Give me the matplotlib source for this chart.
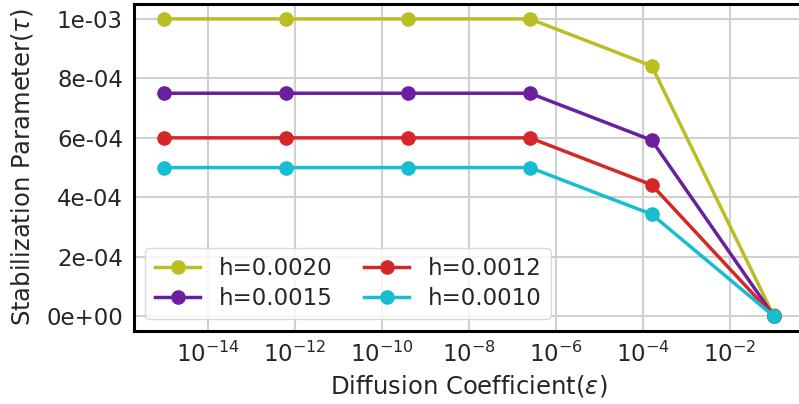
import numpy as np
import matplotlib
matplotlib.use("Agg")
import matplotlib.pyplot as plt
from matplotlib.ticker import FuncFormatter

eps = [1e-15, 10**-12.2, 10**-9.4, 10**-6.6, 10**-3.8, 1e-1]
tau_h0020 = [1.0e-3, 1.0e-3, 1.0e-3, 1.0e-3, 8.42e-4, 3.3e-6]
tau_h0015 = [7.5e-4, 7.5e-4, 7.5e-4, 7.5e-4, 5.92e-4, 1.9e-6]
tau_h0012 = [6.0e-4, 6.0e-4, 6.0e-4, 6.0e-4, 4.42e-4, 1.2e-6]
tau_h0010 = [5.0e-4, 5.0e-4, 5.0e-4, 5.0e-4, 3.43e-4, 0.8e-6]
labels = ["h=0.0020", "h=0.0015", "h=0.0012", "h=0.0010"]
colors = ["#bcbd22", "#6a1fa0", "#d62728", "#17becf"]

plt.rcParams['font.family'] = ['DejaVu Sans']
fig = plt.figure(figsize=(7.99, 4.04), dpi=100)
ax = fig.add_axes([0.1677, 0.181, 0.8385, 0.809])

for y, lab, c in zip([tau_h0020, tau_h0015, tau_h0012, tau_h0010], labels, colors):
    ax.plot(eps, y, '-o', color=c, lw=2.5, ms=9.5, label=lab)

ax.set_xscale('log')
ax.set_xticks([1e-14, 1e-12, 1e-10, 1e-8, 1e-6, 1e-4, 1e-2])
ax.xaxis.set_minor_locator(matplotlib.ticker.NullLocator())
ax.set_yticks([0, 2e-4, 4e-4, 6e-4, 8e-4, 1e-3])
ax.yaxis.set_major_formatter(FuncFormatter(lambda v, p: "{:.0e}".format(v)))
ax.grid(True, color='#d0d0d0', lw=1.5)
ax.set_axisbelow(True)
for s in ax.spines.values():
    s.set_color('black')
    s.set_linewidth(2.2)
ax.tick_params(axis='both', labelsize=16.5, length=0, pad=8, colors='#262626')
ax.set_xlabel(r"Diffusion Coefficient($\epsilon$)", fontsize=17.5, color='#262626', labelpad=4)
ax.set_ylabel(r"Stabilization Parameter($\tau$)", fontsize=17.5, color='#262626', labelpad=8)
leg = ax.legend(ncol=2, loc='lower left', fontsize=16.5, frameon=True, columnspacing=1.35,
                handlelength=2.0, borderpad=0.4, labelspacing=0.3)
leg.get_frame().set_edgecolor('#d0d0d0')
for t in leg.get_texts():
    t.set_color('#262626')
fig.savefig("out.png", dpi=100)
